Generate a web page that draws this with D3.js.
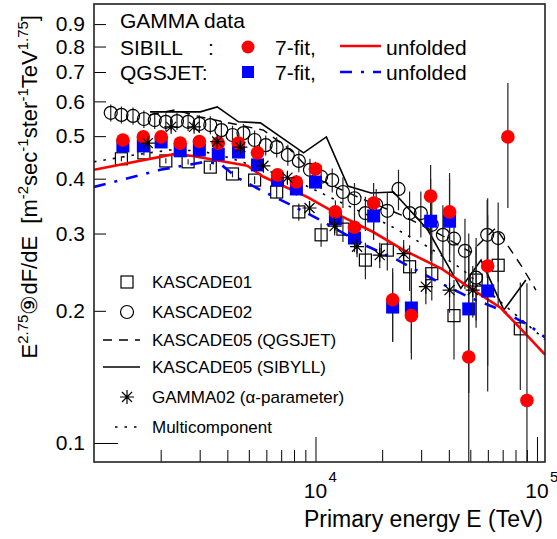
<!DOCTYPE html>
<html>
  <head>
    <meta charset="UTF-8">
    <script src="https://d3js.org/d3.v7.min.js"></script>
    <style>
      body { margin: 0; background: white; }
      text { font-family: "Liberation Sans", Arial, sans-serif; fill: #000; }
    </style>
  </head>
  <body>
    <svg id="chart" width="557" height="539"></svg>
    <script>
      // GAMMA 7-fit points (SIBILL red circles, QGSJET blue squares)
      const fitEnergy = [1350, 1670, 2010, 2450, 2990, 3640, 4490, 5470, 6740, 8200, 10000, 12300, 15000, 18300, 22300, 27100, 33100, 40300, 49200, 59900, 73900, 90100];
      const sibFit   = [0.490, 0.498, 0.498, 0.482, 0.486, 0.482, 0.482, 0.458, 0.408, 0.393, 0.421, 0.336, 0.310, 0.352, 0.212, 0.195, 0.365, 0.336, 0.157, 0.253, 0.498, 0.125];
      const sibFitLo = [0.478, 0.486, 0.486, 0.470, 0.474, 0.470, 0.470, 0.445, 0.395, 0.378, 0.405, 0.315, 0.288, 0.306, 0.170, 0.155, 0.268, 0.268, 0.080, 0.131, 0.343, 0.080];
      const sibFitHi = [0.502, 0.510, 0.510, 0.494, 0.498, 0.494, 0.494, 0.472, 0.421, 0.408, 0.437, 0.357, 0.333, 0.391, 0.250, 0.248, 0.430, 0.412, 0.280, 0.361, 0.661, 0.231];
      const qgsFit   = [0.475, 0.475, 0.485, 0.463, 0.465, 0.455, 0.460, 0.430, 0.397, 0.379, 0.393, 0.324, 0.293, 0.329, 0.204, 0.203, 0.320, 0.320, 0.202, 0.222];
      const qgsFitLo = [0.465, 0.465, 0.475, 0.453, 0.455, 0.445, 0.450, 0.418, 0.385, 0.366, 0.380, 0.305, 0.272, 0.290, 0.170, 0.160, 0.260, 0.260, 0.130, 0.150];
      const qgsFitHi = [0.485, 0.485, 0.495, 0.473, 0.475, 0.465, 0.470, 0.442, 0.409, 0.392, 0.406, 0.345, 0.315, 0.365, 0.245, 0.250, 0.400, 0.400, 0.300, 0.330];

      // unfolded spectra
      const sibUnfEnergy = [1000, 2300, 2750, 4920, 5820, 9200, 13000, 18300, 25000, 36800, 50200, 68700, 94000, 108700];
      const sibUnf       = [0.419, 0.455, 0.451, 0.428, 0.404, 0.363, 0.329, 0.302, 0.275, 0.250, 0.225, 0.203, 0.172, 0.159];
      const qgsUnfEnergy = [1000, 1990, 3180, 3720, 4440, 5640, 7710, 10500, 16500, 23500, 36800, 50200, 68700, 94000, 108700];
      const qgsUnf       = [0.383, 0.419, 0.437, 0.432, 0.402, 0.377, 0.349, 0.322, 0.283, 0.261, 0.231, 0.214, 0.201, 0.184, 0.174];

      // KASCADE01 (open squares)
      const k01Energy = [1330, 1680, 2110, 2660, 3350, 4220, 5310, 6680, 8410, 10600, 13300, 16800, 21100, 26600, 33500, 42200, 53100, 66800, 84100];
      const k01Flux   = [0.444, 0.458, 0.439, 0.437, 0.425, 0.410, 0.397, 0.373, 0.336, 0.298, 0.307, 0.261, 0.275, 0.252, 0.243, 0.195, 0.235, 0.254, 0.182];
      const k01Err    = [0.006, 0.006, 0.006, 0.006, 0.007, 0.007, 0.008, 0.012, 0.015, 0.018, 0.020, 0.025, 0.028, 0.030, 0.032, 0.040, 0.045, 0.050, 0.050];

      // KASCADE02 (open circles)
      const k02Energy = [1190, 1330, 1500, 1680, 1880, 2110, 2370, 2660, 2990, 3350, 3760, 4220, 4730, 5310, 5960, 6680, 7500, 8410, 9440, 10600, 11900, 13300, 15000, 16800, 18800, 21100, 23700, 26600, 29900, 33500, 37600, 42200, 47300, 53100, 59600, 66800];
      const k02Flux   = [0.565, 0.559, 0.556, 0.547, 0.544, 0.539, 0.541, 0.539, 0.533, 0.530, 0.516, 0.503, 0.508, 0.490, 0.477, 0.472, 0.453, 0.439, 0.419, 0.404, 0.397, 0.373, 0.361, 0.334, 0.349, 0.338, 0.379, 0.334, 0.334, 0.314, 0.298, 0.292, 0.274, 0.238, 0.298, 0.293];
      const k02Err    = [0.025, 0.025, 0.025, 0.025, 0.025, 0.025, 0.025, 0.025, 0.025, 0.025, 0.025, 0.025, 0.025, 0.025, 0.025, 0.025, 0.025, 0.025, 0.025, 0.025, 0.025, 0.030, 0.030, 0.030, 0.030, 0.035, 0.040, 0.040, 0.040, 0.045, 0.050, 0.050, 0.050, 0.055, 0.060, 0.060];

      // KASCADE05 lines
      const k05SibEnergy = [1790, 3020, 3600, 4490, 5640, 8830, 11200, 14000, 17800, 22500, 32100, 45300, 55900, 70900, 89100];
      const k05Sib       = [0.568, 0.568, 0.583, 0.539, 0.536, 0.458, 0.498, 0.385, 0.371, 0.373, 0.306, 0.225, 0.261, 0.201, 0.235];
      const k05QgsEnergy = [1790, 2330, 3020, 5820, 7710, 10500, 16000, 24300, 36800, 50200, 65200, 84700, 98900];
      const k05Qgs       = [0.559, 0.574, 0.553, 0.516, 0.465, 0.397, 0.361, 0.331, 0.298, 0.272, 0.309, 0.254, 0.223];

      // GAMMA02 (asterisks)
      const g02Energy = [1750, 2230, 2830, 3600, 4580, 5820, 7470, 9400, 12200, 15400, 19500, 25000, 31500, 40300, 51300];
      const g02Flux   = [0.482, 0.525, 0.525, 0.486, 0.472, 0.428, 0.402, 0.343, 0.312, 0.280, 0.268, 0.270, 0.227, 0.223, 0.223];
      const g02Err    = [0.010, 0.010, 0.010, 0.010, 0.010, 0.010, 0.012, 0.012, 0.015, 0.015, 0.018, 0.020, 0.020, 0.025, 0.030];

      // Multicomponent (dotted)
      const multiEnergy = [1000, 1520, 2210, 3020, 4120, 5940, 8550, 13200, 21400, 32100, 45300, 66700, 108700];
      const multi       = [0.437, 0.453, 0.465, 0.463, 0.446, 0.419, 0.391, 0.352, 0.314, 0.280, 0.250, 0.212, 0.172];

      // axis ticks
      const yTickValues = [0.1, 0.2, 0.3, 0.4, 0.5, 0.6, 0.7, 0.8, 0.9];
      const xTickValues = [2000, 3000, 4000, 5000, 6000, 7000, 8000, 9000, 10000, 20000, 30000, 40000, 50000, 60000, 70000, 80000, 90000, 100000];
      const xLabelValues = [1e4, 1e5];

      const svg = d3.select("svg#chart");
      const width = svg.attr("width");
      const height = svg.attr("height");
      const margin = {"top": 4, "right": 12, "bottom": 77, "left": 94};
      const chartWidth = width - margin.left - margin.right;
      const chartHeight = height - margin.top - margin.bottom;

      const x = d3.scaleLog().domain([1000, 108700]).range([0, chartWidth]);
      const y = d3.scaleLog().domain([0.0905, 1.0]).range([chartHeight, 0]);

      svg.append("defs").append("clipPath").attr("id", "clip")
         .append("rect").attr("width", chartWidth).attr("height", chartHeight);

      let plot = svg.append("g")
                    .attr("transform", "translate(" + margin.left + "," + margin.top + ")");
      let area = plot.append("g").attr("clip-path", "url(#clip)");

      const line = d3.line().x(d => x(d[0])).y(d => y(d[1]));

      function drawLine(g, es, vs, color, w, dash) {
        g.append("path")
         .datum(d3.zip(es, vs))
         .attr("d", line)
         .attr("fill", "none")
         .attr("stroke", color)
         .attr("stroke-width", w)
         .attr("stroke-dasharray", dash);
      }

      function errBars(g, es, lo, hi) {
        g.append("g").selectAll("line").data(es).enter()
         .append("line")
         .attr("x1", d => x(d)).attr("x2", d => x(d))
         .attr("y1", (d, i) => y(lo[i])).attr("y2", (d, i) => y(hi[i]))
         .attr("stroke", "#222").attr("stroke-width", 1.2);
      }

      const starPath = s => "M0," + (-s) + "L0," + s + "M" + (-s) + ",0L" + s + ",0" +
                            "M" + (-s * 0.72) + "," + (-s * 0.72) + "L" + (s * 0.72) + "," + (s * 0.72) +
                            "M" + (-s * 0.72) + "," + (s * 0.72) + "L" + (s * 0.72) + "," + (-s * 0.72);

      // lines
      drawLine(area, multiEnergy, multi, "#000", 1.6, "2.5 7");
      drawLine(area, k05QgsEnergy, k05Qgs, "#000", 1.4, "9 7");
      drawLine(area, k05SibEnergy, k05Sib, "#000", 1.6, null);

      // KASCADE01
      errBars(area, k01Energy, k01Flux.map((v, i) => v - k01Err[i]), k01Flux.map((v, i) => v + k01Err[i]));
      area.append("g").selectAll("rect").data(k01Energy).enter()
          .append("rect")
          .attr("x", d => x(d) - 6).attr("y", (d, i) => y(k01Flux[i]) - 6)
          .attr("width", 12).attr("height", 12)
          .attr("fill", "none").attr("stroke", "#000").attr("stroke-width", 1.2);

      // KASCADE02
      errBars(area, k02Energy, k02Flux.map((v, i) => v - k02Err[i]), k02Flux.map((v, i) => v + k02Err[i]));
      area.append("g").selectAll("circle").data(k02Energy).enter()
          .append("circle")
          .attr("cx", d => x(d)).attr("cy", (d, i) => y(k02Flux[i]))
          .attr("r", 6.5)
          .attr("fill", "none").attr("stroke", "#000").attr("stroke-width", 1.2);

      // unfolded
      drawLine(area, qgsUnfEnergy, qgsUnf, "#0000ff", 2.6, "12 9 3 9");
      drawLine(area, sibUnfEnergy, sibUnf, "#ff0000", 2.6, null);

      // 7-fit
      errBars(area, fitEnergy.slice(0, qgsFit.length), qgsFitLo, qgsFitHi);
      errBars(area, fitEnergy, sibFitLo, sibFitHi);
      area.append("g").selectAll("rect").data(qgsFit).enter()
          .append("rect")
          .attr("x", (d, i) => x(fitEnergy[i]) - 6.5).attr("y", d => y(d) - 6.5)
          .attr("width", 13).attr("height", 13)
          .attr("fill", "#0000ff");
      area.append("g").selectAll("circle").data(sibFit).enter()
          .append("circle")
          .attr("cx", (d, i) => x(fitEnergy[i])).attr("cy", d => y(d))
          .attr("r", 6.8)
          .attr("fill", "#ff0000");

      // GAMMA02
      errBars(area, g02Energy, g02Flux.map((v, i) => v - g02Err[i]), g02Flux.map((v, i) => v + g02Err[i]));
      area.append("g").selectAll("path").data(g02Energy).enter()
          .append("path")
          .attr("transform", (d, i) => "translate(" + x(d) + "," + y(g02Flux[i]) + ")")
          .attr("d", starPath(7))
          .attr("stroke", "#000").attr("stroke-width", 1.2);

      // axes
      let yAxis = d3.axisLeft(y).tickValues(yTickValues).tickFormat(d3.format(".1f")).tickSize(-12).tickPadding(9);
      let yg = plot.append("g").attr("class", "y axis").call(yAxis);
      yg.select(".domain").remove();
      yg.selectAll(".tick line").attr("stroke", "#000").filter(d => d === 0.1).attr("x2", 24);
      yg.selectAll(".tick text").attr("font-size", 21).attr("font-family", "Liberation Sans, Arial, sans-serif");

      let xAxis = d3.axisBottom(x).tickValues(xTickValues).tickFormat("").tickSize(-12);
      let xg = plot.append("g").attr("class", "x axis")
                   .attr("transform", "translate(0," + chartHeight + ")").call(xAxis);
      xg.select(".domain").remove();
      xg.selectAll(".tick line").attr("stroke", "#000").filter(d => d === 1e4 || d === 1e5).attr("y2", -25);

      xLabelValues.forEach(v => {
        plot.append("text").attr("x", x(v)).attr("y", chartHeight + 36)
            .attr("text-anchor", "middle").attr("font-size", 21).text("10");
        plot.append("text").attr("x", x(v) + 13).attr("y", chartHeight + 20)
            .attr("font-size", 15).text(Math.round(Math.log10(v)));
      });

      plot.append("rect").attr("width", chartWidth).attr("height", chartHeight)
          .attr("fill", "none").attr("stroke", "#222").attr("stroke-width", 1.6);

      // axis titles
      plot.append("text").attr("x", chartWidth - 2).attr("y", chartHeight + 65)
          .attr("text-anchor", "end").attr("font-size", 23).text("Primary energy E (TeV)");

      let yt = svg.append("text").attr("transform", "translate(37,15) rotate(-90)")
                  .attr("text-anchor", "end").attr("font-size", 22);
      const yParts = [["E", 0], ["2.75", 1], ["⑨dF/dE\u00a0\u00a0[m", 0], ["-2", 1], ["sec", 0], ["-1", 1],
                      ["ster", 0], ["-1", 1], ["TeV", 0], ["1.75", 1], ["]", 0]];
      let prevSup = 0;
      yParts.forEach(p => {
        const sup = p[1];
        yt.append("tspan")
          .attr("dy", sup === prevSup ? 0 : (sup ? -9 : 9))
          .attr("font-size", sup ? 15 : 22)
          .text(p[0]);
        prevSup = sup;
      });

      // top legend
      const topLeg = svg.append("g");
      topLeg.append("text").attr("x", 120).attr("y", 28).attr("font-size", 21).text("GAMMA data");
      topLeg.append("text").attr("x", 120).attr("y", 55).attr("font-size", 21).text("SIBILL");
      topLeg.append("text").attr("x", 208).attr("y", 55).attr("font-size", 21).text(":");
      topLeg.append("circle").attr("cx", 248).attr("cy", 47).attr("r", 6.5).attr("fill", "#ff0000");
      topLeg.append("text").attr("x", 275).attr("y", 55).attr("font-size", 21).text("7-fit,");
      topLeg.append("line").attr("x1", 340).attr("x2", 381).attr("y1", 46).attr("y2", 46)
            .attr("stroke", "#ff0000").attr("stroke-width", 2.6);
      topLeg.append("text").attr("x", 386).attr("y", 55).attr("font-size", 21).text("unfolded");
      topLeg.append("text").attr("x", 120).attr("y", 80).attr("font-size", 21).text("QGSJET:");
      topLeg.append("rect").attr("x", 242).attr("y", 66).attr("width", 12).attr("height", 12).attr("fill", "#0000ff");
      topLeg.append("text").attr("x", 275).attr("y", 80).attr("font-size", 21).text("7-fit,");
      topLeg.append("line").attr("x1", 340).attr("x2", 381).attr("y1", 72).attr("y2", 72)
            .attr("stroke", "#0000ff").attr("stroke-width", 2.6).attr("stroke-dasharray", "12 9 3 9");
      topLeg.append("text").attr("x", 386).attr("y", 80).attr("font-size", 21).text("unfolded");

      // lower legend
      const leg = svg.append("g");
      const legNames = ["KASCADE01", "KASCADE02", "KASCADE05 (QGSJET)", "KASCADE05 (SIBYLL)", "GAMMA02 (α-parameter)", "Multicomponent"];
      const legY = [282, 312, 340, 367, 397, 427];
      legNames.forEach((n, i) => {
        leg.append("text").attr("x", 152).attr("y", legY[i] + 6).attr("font-size", 17).text(n);
      });
      leg.append("rect").attr("x", 121).attr("y", legY[0] - 6).attr("width", 12).attr("height", 12)
         .attr("fill", "none").attr("stroke", "#000").attr("stroke-width", 1.2);
      leg.append("circle").attr("cx", 127).attr("cy", legY[1]).attr("r", 6.5)
         .attr("fill", "none").attr("stroke", "#000").attr("stroke-width", 1.2);
      leg.append("line").attr("x1", 103).attr("x2", 140).attr("y1", legY[2]).attr("y2", legY[2])
         .attr("stroke", "#000").attr("stroke-width", 1.4).attr("stroke-dasharray", "9 7");
      leg.append("line").attr("x1", 103).attr("x2", 140).attr("y1", legY[3]).attr("y2", legY[3])
         .attr("stroke", "#000").attr("stroke-width", 1.6);
      leg.append("path").attr("transform", "translate(127," + legY[4] + ")").attr("d", starPath(7))
         .attr("stroke", "#000").attr("stroke-width", 1.2);
      leg.append("line").attr("x1", 115).attr("x2", 140).attr("y1", legY[5]).attr("y2", legY[5])
         .attr("stroke", "#000").attr("stroke-width", 1.6).attr("stroke-dasharray", "2.5 7");
    </script>
  </body>
</html>
